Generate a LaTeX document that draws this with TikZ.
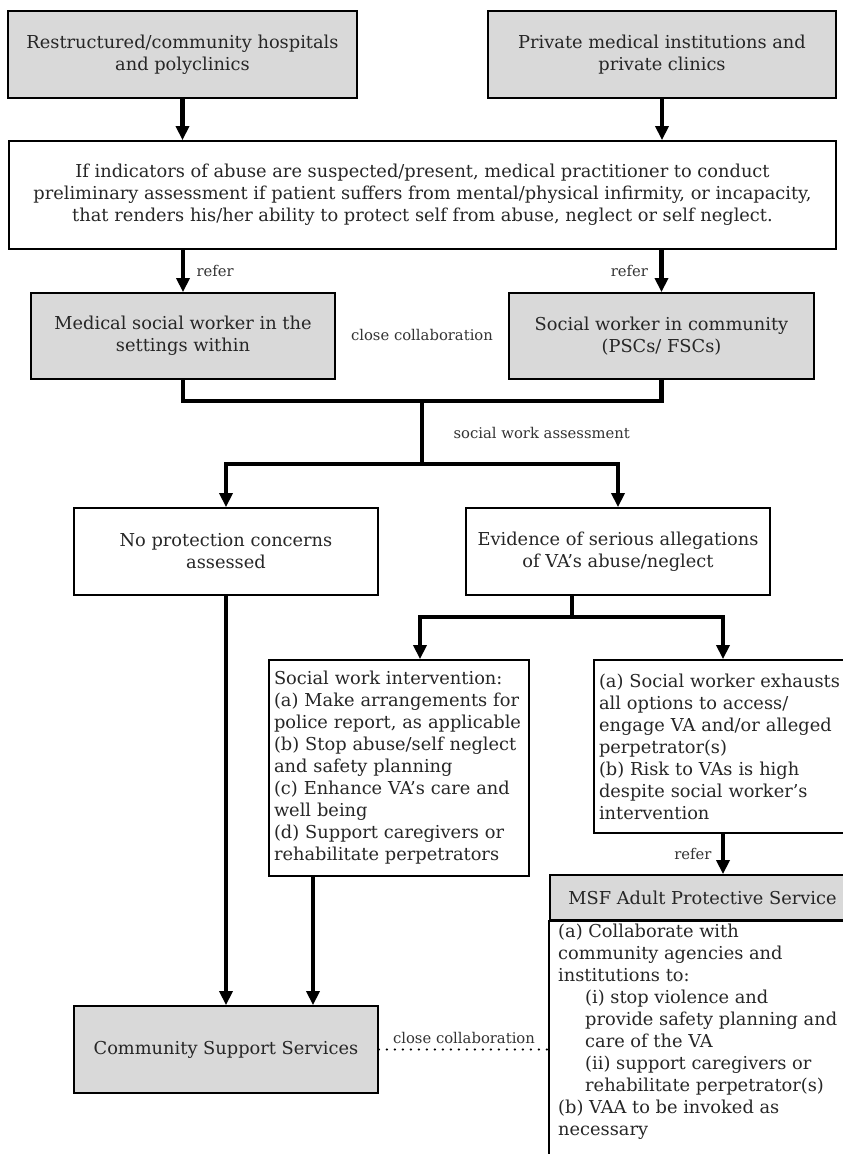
\documentclass[tikz,border=0pt]{standalone}
\usepackage{fontspec}
\setmainfont{DejaVu Serif}
\usetikzlibrary{arrows.meta}
\usetikzlibrary{positioning}
\definecolor{boxgrey}{RGB}{217,217,217}

\begin{document}
\begin{tikzpicture}[x=1pt,y=-1pt,
    box/.style={draw, line width=1.8pt, align=center, inner sep=5pt, text=black!85,
        font=\fontsize{17.8}{22}\selectfont},
    grey/.style={box, fill=boxgrey},
    line/.style={line width=4.5pt},
    arr/.style={line, -{Triangle[length=14pt,width=13pt]}},
    lbl/.style={font=\fontsize{14.8}{17}\selectfont, text=black!80}]
\clip (0,0) rectangle (843,1154);

% where the cases come from
\node[grey, minimum width=349pt, minimum height=87pt] (hosp) at (182.5,54.5)
    {Restructured/community hospitals\\and polyclinics};
\node[grey, minimum width=348pt, minimum height=87pt] (priv) at (662,54.5)
    {Private medical institutions and\\private clinics};
\node[box, minimum width=827pt, minimum height=108pt] (indic) at (422.5,195)
    {If indicators of abuse are suspected/present, medical practitioner to conduct\\
     preliminary assessment if patient suffers from mental/physical infirmity, or incapacity,\\
     that renders his/her ability to protect self from abuse, neglect or self neglect.};
\draw[arr] (hosp) -- (hosp |- indic.north);
\draw[arr] (priv) -- (priv |- indic.north);

% social workers
\node[grey, minimum width=304pt, minimum height=86pt] (msw) at (183,336)
    {Medical social worker in the\\settings within};
\node[grey, minimum width=305pt, minimum height=86pt] (swc) at (661.5,336)
    {Social worker in community\\(PSCs/ FSCs)};
\node[lbl] (collab) at (422,335) {close collaboration};
\draw[arr] (indic.south -| msw) -- (msw) node[lbl, midway, right, xshift=8pt] {refer};
\draw[arr] (indic.south -| swc) -- (swc) node[lbl, midway, left, xshift=-8pt] {refer};

% assessment
\coordinate (join) at (422,401);
\coordinate (split) at (422,464);
\node[box, minimum width=304pt, minimum height=87pt] (nopc) at (226,551.5)
    {No protection concerns\\assessed};
\node[box, minimum width=304pt, minimum height=87pt] (evid) at (618,551.5)
    {Evidence of serious allegations\\of VA’s abuse/neglect};
\draw[line] (msw) |- (join) -| (swc);
\draw[line] (join) -- (split) node[lbl, midway, right, xshift=26pt] {social work assessment};
\draw[arr] (split) -| (nopc);
\draw[arr] (split) -| (evid);

% follow-up
\coordinate (split2) at (572,617);
\node[box, align=left, text width=250pt, minimum height=216pt] (swi) at (399,768)
    {Social work intervention:\\
     (a) Make arrangements for\\
     police report, as applicable\\
     (b) Stop abuse/self neglect\\
     and safety planning\\
     (c) Enhance VA’s care and\\
     well being\\
     (d) Support caregivers or\\
     rehabilitate perpetrators};
\node[box, align=left, text width=250pt, minimum height=173pt] (exh) at (724,746.5)
    {(a) Social worker exhausts\\
     all options to access/\\
     engage VA and/or alleged\\
     perpetrator(s)\\
     (b) Risk to VAs is high\\
     despite social worker’s\\
     intervention};
\draw[line] (evid.south -| split2) -- (split2);
\draw[arr] (split2) -| ([xshift=21pt]swi.north);
\draw[arr] (split2) -| ([xshift=-1pt]exh.north);

% APS
\node[grey, minimum width=305pt, minimum height=45pt] (msf) at (702.5,897.5)
    {MSF Adult Protective Service};
\draw[line width=1.8pt] (msf.south west) rectangle ++(305,260);
\node[anchor=north west, align=left, inner sep=0pt, text=black!85,
    font=\fontsize{17.8}{22}\selectfont] (msfbody) at (558,924)
    {(a) Collaborate with\\
     community agencies and\\
     institutions to:\\
     \hspace*{27pt}(i) stop violence and\\
     \hspace*{27pt}provide safety planning and\\
     \hspace*{27pt}care of the VA\\
     \hspace*{27pt}(ii) support caregivers or\\
     \hspace*{27pt}rehabilitate perpetrator(s)\\
     (b) VAA to be invoked as\\
     necessary};
\draw[arr] ([xshift=-1pt]exh.south) -- ([xshift=-1pt]exh.south |- msf.north)
    node[lbl, midway, left, xshift=-6pt] {refer};

% community services
\node[grey, minimum width=304pt, minimum height=87pt] (css) at (226,1049.5)
    {Community Support Services};
\draw[arr] (nopc) -- (nopc |- css.north);
\draw[arr] ([xshift=-86pt]swi.south) -- ([xshift=-86pt]swi.south |- css.north);
\draw[line width=2.4pt, line cap=round, dash pattern=on 0pt off 8pt]
    (css) -- (css -| msf.west) node[lbl, midway, above, yshift=1pt] {close collaboration};
\end{tikzpicture}
\end{document}
